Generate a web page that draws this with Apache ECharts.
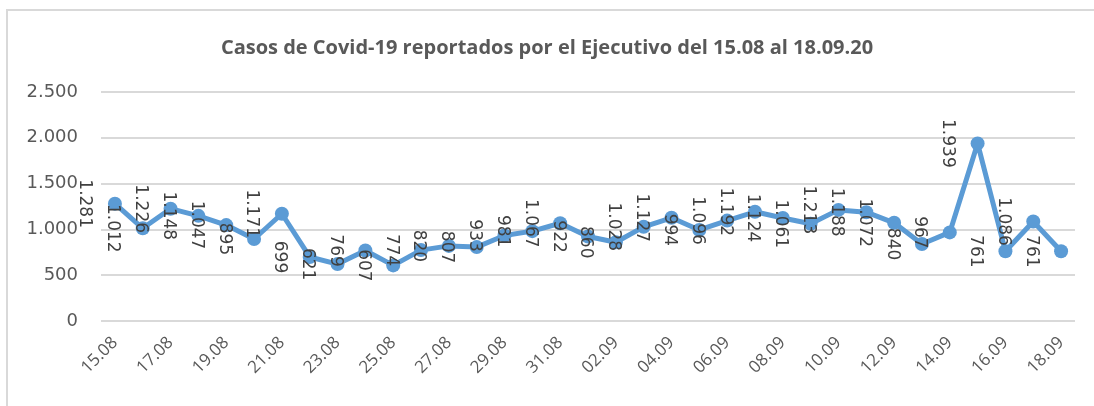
<!DOCTYPE html>
<html>
<head>
<meta charset="utf-8">
<script src="https://cdn.jsdelivr.net/npm/echarts@6/dist/echarts.min.js"></script>
<style>
  html, body { margin: 0; padding: 0; background: #fff; }
  #main { width: 1094px; height: 406px; }
</style>
</head>
<body>
<div id="main"></div>
<script>
const titleText = "Casos de Covid-19 reportados por el Ejecutivo del 15.08 al 18.09.20";

const dates = [
  "15.08", "16.08", "17.08", "18.08", "19.08", "20.08", "21.08", "22.08", "23.08",
  "24.08", "25.08", "26.08", "27.08", "28.08", "29.08", "30.08", "31.08",
  "01.09", "02.09", "03.09", "04.09", "05.09", "06.09", "07.09", "08.09",
  "09.09", "10.09", "11.09", "12.09", "13.09", "14.09", "15.09", "16.09",
  "17.09", "18.09",
];

const cases = [
  1281, 1012, 1226, 1148, 1047, 895, 1171, 699, 621, 769, 607, 774, 820, 807,
  933, 981, 1067, 922, 860, 1028, 1127, 994, 1096, 1192, 1124, 1061, 1213,
  1188, 1072, 840, 967, 1939, 761, 1086, 761,
];

const yTicks = [0, 500, 1000, 1500, 2000, 2500];

// separador de miles con punto
const fmt = v => String(v).replace(/\B(?=(\d{3})+(?!\d))/g, ".");

const chart = echarts.init(document.getElementById("main"));

chart.setOption({
  animation: false,
  backgroundColor: "#fff",
  graphic: [
    {
      // marco del gráfico (solo arriba e izquierda quedan dentro de la imagen)
      type: "rect",
      shape: { x: 7, y: 10, width: 1200, height: 500 },
      style: { fill: "none", stroke: "#d9d9d9", lineWidth: 2 },
      silent: true,
    },
  ],
  title: {
    text: titleText,
    left: "center",
    top: 33,
    textStyle: {
      fontFamily: "Open Sans",
      fontWeight: "bold",
      fontSize: 20,
      color: "#595959",
    },
  },
  grid: { left: 101, right: 19, top: 92, bottom: 85 },
  xAxis: {
    type: "category",
    data: dates,
    boundaryGap: true,
    axisLine: { show: false },
    axisTick: { show: false },
    axisLabel: {
      interval: 1,
      rotate: 45,
      margin: 19,
      fontFamily: "Open Sans",
      fontSize: 17,
      color: "#595959",
    },
  },
  yAxis: {
    type: "value",
    min: yTicks[0],
    max: yTicks[yTicks.length - 1],
    interval: 500,
    axisLine: { show: false },
    axisTick: { show: false },
    axisLabel: {
      margin: 23,
      fontFamily: "DejaVu Sans",
      fontSize: 18,
      color: "#595959",
      formatter: v => fmt(v),
    },
    splitLine: { lineStyle: { color: "#d9d9d9", width: 2 } },
  },
  series: [
    {
      type: "line",
      data: cases,
      symbol: "circle",
      symbolSize: 14,
      itemStyle: { color: "#5b9bd5" },
      lineStyle: { color: "#5b9bd5", width: 5 },
      label: {
        show: true,
        position: "inside",
        rotate: -90,
        offset: [0, 30],
        fontFamily: "DejaVu Sans",
        fontSize: 17,
        color: "#404040",
        formatter: p => fmt(p.value),
      },
    },
  ],
});
</script>
</body>
</html>
